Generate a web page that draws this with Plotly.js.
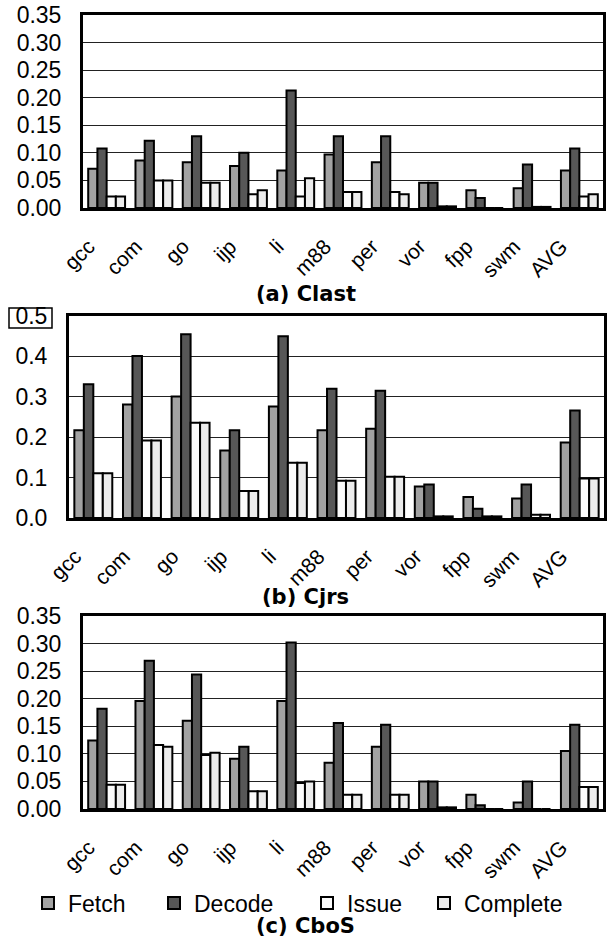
<!DOCTYPE html>
<html>
<head>
<meta charset="utf-8">
<script src="https://cdn.plot.ly/plotly-3.0.1.min.js"></script>
<style>html,body{margin:0;padding:0;background:#fff;}#chart{width:608px;height:943px;}</style>
</head>
<body>
<div id="chart"></div>
<script>
// ---- data ----
const categories = ['gcc','com','go','ijp','li','m88','per','vor','fpp','swm','AVG'];
const seriesNames = ['Fetch','Decode','Issue','Complete'];

// (a) Clast
const clastFetch    = [0.071,0.086,0.083,0.076,0.068,0.097,0.083,0.046,0.032,0.036,0.068];
const clastDecode   = [0.108,0.122,0.130,0.100,0.213,0.130,0.130,0.046,0.018,0.079,0.108];
const clastIssue    = [0.021,0.050,0.046,0.025,0.021,0.029,0.029,0.003,0.000,0.002,0.021];
const clastComplete = [0.021,0.050,0.046,0.032,0.054,0.029,0.025,0.003,0.000,0.002,0.025];

// (b) Cjrs
const cjrsFetch    = [0.217,0.281,0.301,0.167,0.276,0.217,0.221,0.078,0.052,0.048,0.187];
const cjrsDecode   = [0.331,0.401,0.455,0.217,0.450,0.320,0.315,0.083,0.023,0.083,0.266];
const cjrsIssue    = [0.111,0.192,0.236,0.067,0.137,0.092,0.102,0.004,0.004,0.008,0.098];
const cjrsComplete = [0.111,0.192,0.236,0.067,0.137,0.092,0.102,0.004,0.004,0.008,0.098];

// (c) CboS
const cbosFetch    = [0.124,0.196,0.160,0.091,0.196,0.084,0.113,0.050,0.026,0.012,0.105];
const cbosDecode   = [0.182,0.269,0.244,0.113,0.302,0.156,0.153,0.050,0.007,0.050,0.153];
const cbosIssue    = [0.044,0.116,0.098,0.032,0.047,0.026,0.026,0.003,0.000,0.000,0.040];
const cbosComplete = [0.044,0.113,0.102,0.032,0.050,0.026,0.026,0.003,0.000,0.000,0.040];

const panelTitles = ['(a) Clast','(b) Cjrs','(c) CboS'];

// ---- styling ----
const colors = ['#a2a2a2','#575757','#fbfbfb','#ececec'];
const FONT = 'Liberation Sans, Arial, sans-serif';
const panels = [
  {vals:[clastFetch,clastDecode,clastIssue,clastComplete], xa:'x',  ya:'y'},
  {vals:[cjrsFetch,cjrsDecode,cjrsIssue,cjrsComplete],     xa:'x2', ya:'y2'},
  {vals:[cbosFetch,cbosDecode,cbosIssue,cbosComplete],     xa:'x3', ya:'y3'}
];
const legendIds = ['legend','legend2','legend3','legend4'];

const traces = [];
panels.forEach((p,pi)=>{
  p.vals.forEach((v,si)=>{
    traces.push({
      type:'bar', x:categories, y:v, name:seriesNames[si],
      xaxis:p.xa, yaxis:p.ya,
      marker:{color:colors[si], line:{color:'#000', width:2}},
      showlegend: pi===2,
      legend: legendIds[si],
      hoverinfo:'skip'
    });
  });
});

const H = 943, W = 608;
const py = v => 1 - v/H;
const px = v => v/W;

function xAxis(d, anchor){
  return {domain:d, anchor:anchor, type:'category', tickangle:-45,
    showline:true, mirror:true, linewidth:3, linecolor:'#000',
    ticks:'', showgrid:false, automargin:false, ticklabelstandoff:15, ticklabelshift:-18,
    tickfont:{family:FONT, size:21, color:'#000'}, fixedrange:true};
}
function yAxis(d, anchor, range, dtick, fmt){
  return {domain:d, anchor:anchor, range:range, dtick:dtick, tickformat:fmt,
    showline:true, mirror:true, linewidth:3, linecolor:'#000',
    showgrid:true, gridcolor:'#222', gridwidth:1, zeroline:false,
    ticks:'', automargin:false, ticklabelstandoff:14,
    tickfont:{family:FONT, size:23, color:'#000'}, fixedrange:true};
}

function legendAt(xpx){
  return {x:px(xpx), y:py(903), xanchor:'left', yanchor:'middle', orientation:'h',
    bgcolor:'rgba(0,0,0,0)', borderwidth:0, font:{family:FONT, size:23, color:'#000'}};
}

const titleY = [294, 597, 926];
const layout = {
  width:W, height:H, margin:{l:0,r:0,t:0,b:0},
  paper_bgcolor:'#fff', plot_bgcolor:'#fff',
  barmode:'group', bargap:0.22, bargroupgap:0,
  xaxis:  xAxis([px(83), px(603)], 'y'),
  xaxis2: xAxis([px(69), px(604)], 'y2'),
  xaxis3: xAxis([px(83), px(603)], 'y3'),
  yaxis:  yAxis([py(208), py(15)],  'x',  [0,0.35], 0.05, '.2f'),
  yaxis2: yAxis([py(518), py(316)], 'x2', [0,0.5],  0.1,  '.1f'),
  yaxis3: yAxis([py(809), py(616)], 'x3', [0,0.35], 0.05, '.2f'),
  legend:  legendAt(28),
  legend2: legendAt(154),
  legend3: legendAt(307),
  legend4: legendAt(424),
  annotations: panelTitles.map((t,i)=>({
    text:'<b>'+t+'</b>', xref:'paper', yref:'paper', x:0.503, y:py(titleY[i]),
    xanchor:'center', yanchor:'middle', showarrow:false,
    font:{family:'DejaVu Sans, sans-serif', size:21, color:'#000'}
  })),
  shapes:[{type:'rect', xref:'paper', yref:'paper', x0:px(9), x1:px(52), y0:py(328), y1:py(308),
    line:{color:'#000', width:1.5}, fillcolor:'rgba(0,0,0,0)'}]
};

Plotly.newPlot('chart', traces, layout, {displayModeBar:false, staticPlot:true});
</script>
</body>
</html>
